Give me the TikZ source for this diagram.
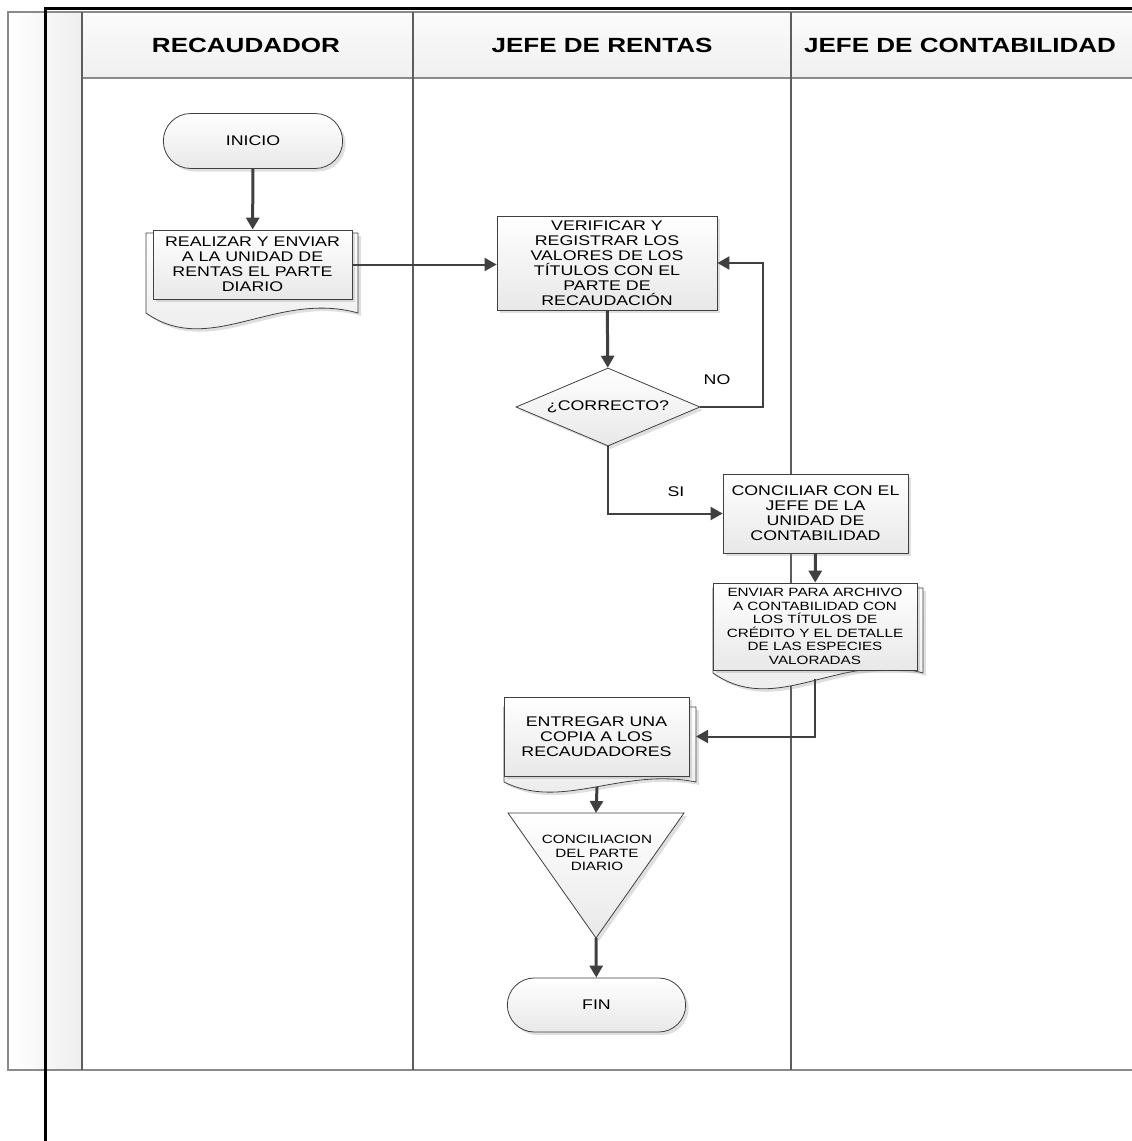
\documentclass[tikz,border=0pt]{standalone}
\usepackage{fontspec}
\setmainfont{Liberation Sans}[FakeStretch=1.27]
\usetikzlibrary{arrows.meta,positioning,shapes.geometric,shapes.misc,shadows}
\definecolor{linegray}{HTML}{404040}
\definecolor{lanegray}{HTML}{8A8A8A}

\begin{document}
\begin{tikzpicture}[
        x=1pt, y=-1pt,
        lane/.style={lanegray, line width=1.5pt},
        divider/.style={linegray!85, line width=1.4pt},
        txt/.style={font=\fontsize{14}{15}\selectfont},
        smalltxt/.style={font=\fontsize{12}{13.5}\selectfont},
        hdr/.style={font=\bfseries\fontsize{20.5}{24}\selectfont},
        boxfill/.style={draw=linegray, line width=0.8pt, top color=white,
            bottom color=gray!18,
            drop shadow={shadow xshift=3pt, shadow yshift=-3pt, opacity=0.25}},
        proc/.style={boxfill, rectangle, align=center, inner sep=2pt},
        term/.style={boxfill, rounded rectangle, txt, minimum height=55pt},
        decision/.style={boxfill, diamond, aspect=2.36, txt, inner sep=0pt},
        flow/.style={linegray, line width=3pt, -{Triangle[length=12pt,width=13pt]}},
        link/.style={linegray, line width=2pt, line join=miter,
            -{Triangle[length=12pt,width=13pt]}},
    ]
    \useasboundingbox (0,0) rectangle (1132,1141);
    % lanes
    \fill[left color=white, right color=gray!13] (8,12) rectangle (82,1070);
    \fill[top color=gray!3, bottom color=gray!12] (82,12) rectangle (1132,78);
    \draw[lane] (1132,12) -- (8,12) -- (8,1070) -- (1132,1070);
    \draw[lane] (82,78) -- (1132,78);
    \draw[divider] (82,12) -- (82,1070);
    \draw[divider] (413,12) -- (413,1070);
    \draw[divider] (791,12) -- (791,1070);
    \draw[line width=3pt, line join=miter] (1132,8.5) -- (45.5,8.5) -- (45.5,1141);

    \node[hdr] (recaudador) at (246,45) {RECAUDADOR};
    \node[hdr] (rentas) at (602,45) {JEFE DE RENTAS};
    \node[hdr] (contab) at (960,45) {JEFE DE CONTABILIDAD};

    % recaudador
    \node[term, minimum width=186pt] (inicio) at (253,141) {INICIO};
    \draw[boxfill] (146,233) -- (358,233) -- (358,313)
        .. controls (276,290) and (210,358) .. (146,313) -- cycle;
    \node[proc, txt, minimum width=199pt, minimum height=69pt] (realizar)
        at (252.5,264.5) {REALIZAR Y ENVIAR\\A LA UNIDAD DE\\RENTAS EL PARTE\\DIARIO};

    % jefe de rentas
    \node[proc, txt, minimum width=220pt, minimum height=94pt] (verificar)
        at (607,263) {VERIFICAR Y\\REGISTRAR LOS\\VALORES DE LOS\\TÍTULOS CON EL\\PARTE DE\\RECAUDACIÓN};
    \node[decision, minimum width=184pt, minimum height=78pt] (correcto)
        at (608,407) {¿CORRECTO?};
    \node[txt] (no) at (717,380) {NO};
    \node[txt] (si) at (676,492) {SI};

    \draw[boxfill] (504,707) -- (696,707) -- (696,782)
        .. controls (622,767) and (562,811) .. (504,782) -- cycle;
    \node[proc, txt, minimum width=185pt, minimum height=79pt] (entregar)
        at (596.5,736.5) {ENTREGAR UNA\\COPIA A LOS\\RECAUDADORES};
    \coordinate (entregar-in) at (696,736.5);
    \coordinate (entregar-out) at (597,787);

    \coordinate (tri-l) at (508,813);
    \coordinate (tri-r) at (684,813);
    \coordinate (tri-apex) at (596,938);
    \coordinate (tri-top) at (596,813);
    \draw[boxfill] (tri-l) -- (tri-r) -- (tri-apex) -- cycle;
    \node[smalltxt, align=center] (conciliacion) at (597,853)
        {CONCILIACION\\DEL PARTE\\DIARIO};

    \node[term, minimum width=185pt, minimum height=54pt] (fin) at (596.5,1005) {FIN};

    % jefe de contabilidad
    \node[proc, txt, minimum width=185pt, minimum height=79pt] (conciliar)
        at (815.5,513.5) {CONCILIAR CON EL\\JEFE DE LA\\UNIDAD DE\\CONTABILIDAD};
    \draw[boxfill] (713,588) -- (923,588) -- (923,673)
        .. controls (841,650) and (777,718) .. (713,673) -- cycle;
    \node[proc, smalltxt, minimum width=204pt, minimum height=87pt] (enviar)
        at (815,626.5) {ENVIAR PARA ARCHIVO\\A CONTABILIDAD CON\\LOS TÍTULOS DE\\CRÉDITO Y EL DETALLE\\DE LAS ESPECIES\\VALORADAS};
    \coordinate (enviar-out) at (815,679);

    % connectors
    \draw[flow] (inicio) -- (realizar);
    \draw[link] (realizar.east) -- (realizar.east -| verificar.west);
    \draw[flow] (verificar) -- (correcto);
    \draw[link] (correcto.east) -- ++(63,0) |- (verificar.east);
    \draw[link] (correcto.south) |- (conciliar.west);
    \draw[flow] (conciliar) -- (enviar);
    \draw[link] (enviar-out) |- (entregar-in);
    \draw[flow] (entregar-out) -- (tri-top);
    \draw[flow] (tri-apex) -- (fin);
\end{tikzpicture}
\end{document}
